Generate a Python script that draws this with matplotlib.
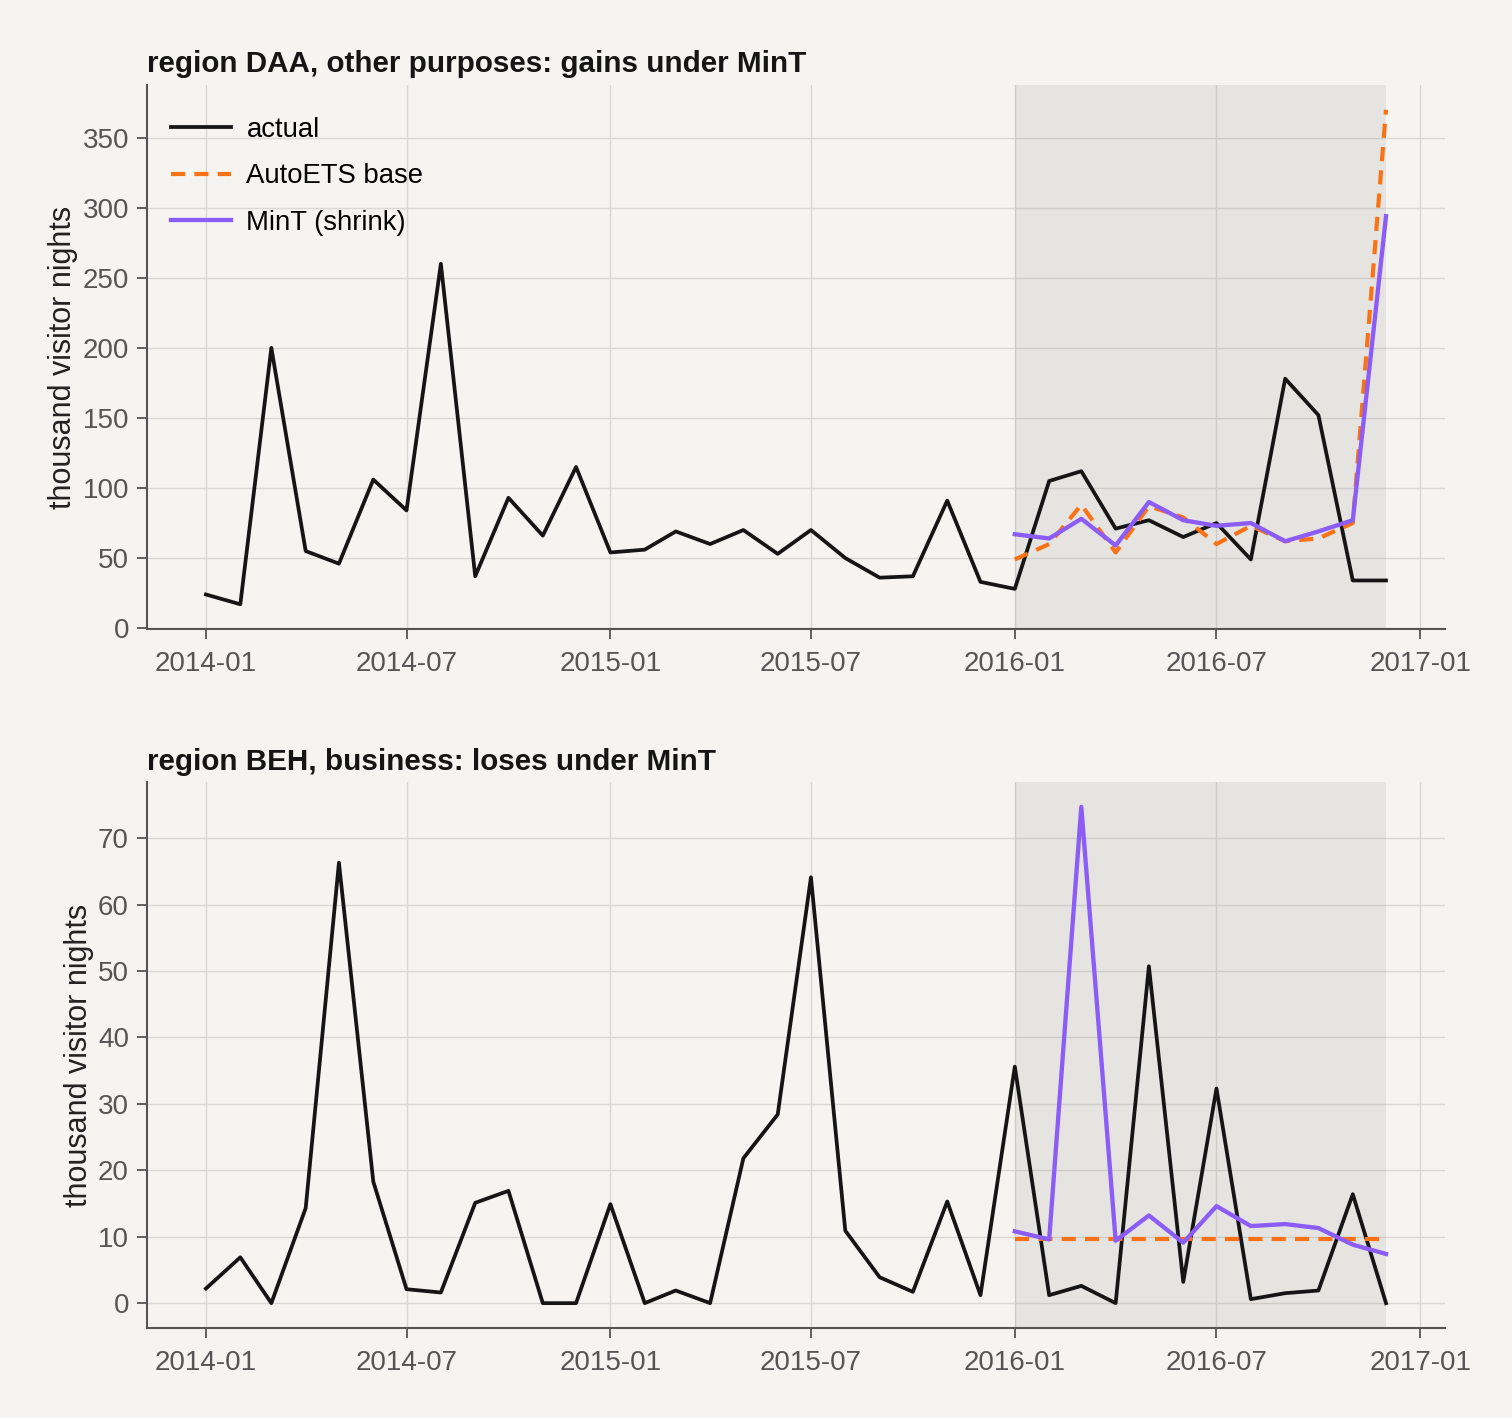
import matplotlib
matplotlib.use("Agg")
import matplotlib.pyplot as plt
import matplotlib.dates as mdates
import pandas as pd

plt.rcParams['font.family'] = ['Liberation Sans', 'DejaVu Sans']

# monthly index, 2014-01 .. 2016-12
months = pd.date_range("2014-01-01", "2016-12-01", freq="MS")
test_months = pd.date_range("2016-01-01", "2016-12-01", freq="MS")

# region DAA, other purposes
daa_actual = [24, 17, 200, 55, 46, 106, 84, 260, 37, 93, 66, 115,
              54, 56, 69, 60, 70, 53, 70, 50, 36, 37, 91, 33,
              28, 105, 112, 71, 77, 65, 75, 49, 178, 152, 34, 34]
daa_ets = [49, 60, 88, 54, 87, 79, 60, 73, 62, 64, 75, 370]
daa_mint = [67, 64, 78, 59, 90, 77, 73, 75, 62, 69, 77, 294]

# region BEH, business
beh_actual = [2.2, 6.9, 0, 14.3, 66.3, 18.3, 2.1, 1.6, 15.1, 16.9, 0, 0,
              14.9, 0, 1.9, 0, 21.8, 28.4, 64.1, 10.9, 3.9, 1.7, 15.3, 1.2,
              35.6, 1.2, 2.6, 0, 50.7, 3.2, 32.3, 0.6, 1.5, 1.9, 16.4, 0]
beh_ets = [9.7] * 12
beh_mint = [10.8, 9.6, 74.7, 9.4, 13.2, 9.1, 14.6, 11.6, 11.9, 11.3, 8.8, 7.4]

panels = [
    ("region DAA, other purposes: gains under MinT", daa_actual, daa_ets, daa_mint),
    ("region BEH, business: loses under MinT", beh_actual, beh_ets, beh_mint),
]

bg = "#f5f4f0"
fig = plt.figure(figsize=(15.12, 14.18), dpi=100, facecolor=bg)
boxes = [[0.0972, 0.5564, 0.8585, 0.3837], [0.0972, 0.0635, 0.8585, 0.3850]]

for i, (title, actual, ets, mint) in enumerate(panels):
    ax = fig.add_axes(boxes[i], facecolor=bg)
    ax.axvspan(test_months[0], test_months[-1], color="#7f7f7f", alpha=0.13, lw=0)
    ax.plot(months, actual, color="#151515", lw=2.7, label="actual")
    ax.plot(test_months, ets, color="#f97316", lw=3.0, ls=(0, (3.4, 2.2)), label="AutoETS base")
    ax.plot(test_months, mint, color="#8b5cf6", lw=3.1, label="MinT (shrink)")

    ax.xaxis.set_major_locator(mdates.MonthLocator(bymonth=[1, 7]))
    ax.xaxis.set_major_formatter(mdates.DateFormatter("%Y-%m"))
    ax.grid(True, color="#d9d8d5", lw=1.0)
    ax.set_axisbelow(True)
    for s in ["top", "right"]:
        ax.spines[s].set_visible(False)
    for s in ["left", "bottom"]:
        ax.spines[s].set_color("#555555")
        ax.spines[s].set_linewidth(1.5)
    ax.tick_params(labelsize=20, colors="#555555", length=7, width=1.3)
    ax.tick_params(axis="x", pad=9)
    ax.tick_params(axis="y", pad=6)
    ax.set_ylabel("thousand visitor nights", fontsize=22, color="#222222", labelpad=3)
    ax.set_title(title, loc="left", fontsize=21.3, fontweight="bold", color="#151515", pad=9)
    if i == 0:
        ax.legend(loc="upper left", bbox_to_anchor=(-0.006, 1.0), frameon=False,
                  fontsize=19.8, handlelength=2.2, handletextpad=0.55,
                  labelspacing=0.75, borderaxespad=0.65, borderpad=0.5)

fig.savefig("out.png", dpi=100, facecolor=bg)
